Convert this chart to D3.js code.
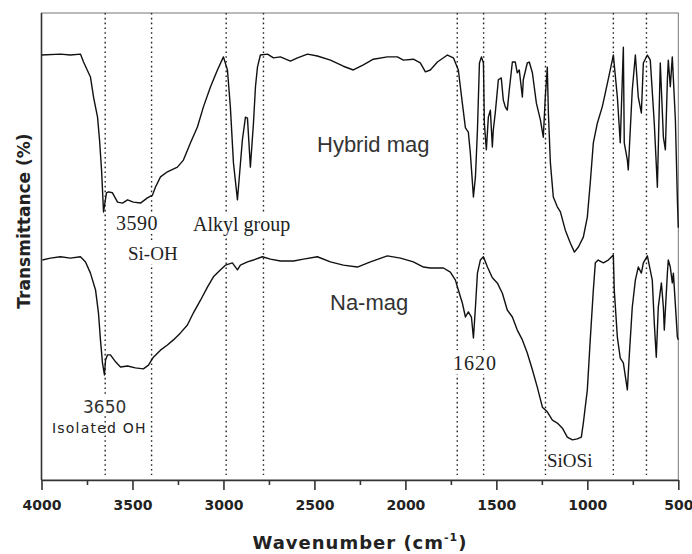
<!DOCTYPE html>
<html>
<head>
<meta charset="utf-8">
<script src="https://cdn.jsdelivr.net/npm/d3@7"></script>
<style>
  html, body { margin: 0; padding: 0; background: #fff; }
  svg { display: block; }
</style>
</head>
<body>
<svg id="chart" width="692" height="554"></svg>
<script>
// ---- data (wavenumber cm-1, transmittance in arbitrary %) ----
const hybridWavenumber = [4000,3896,3841,3786,3769,3731,3714,3692,3681,3670,3659,3643,3632,3610,3582,3555,3527,3495,3456,3418,3390,3374,3346,3308,3253,3220,3181,3143,3110,3071,3033,3000,2978,2962,2945,2923,2896,2879,2868,2852,2835,2824,2813,2797,2758,2725,2687,2632,2593,2538,2484,2412,2341,2286,2231,2176,2099,2044,2011,1956,1918,1890,1863,1824,1769,1736,1709,1687,1670,1654,1643,1626,1615,1604,1593,1582,1571,1566,1555,1544,1533,1522,1517,1506,1489,1473,1462,1451,1440,1429,1412,1396,1385,1374,1357,1352,1330,1319,1302,1280,1258,1242,1231,1220,1214,1203,1187,1165,1148,1121,1093,1071,1049,1022,1000,984,967,945,918,901,874,857,835,819,802,797,780,775,753,736,720,703,692,670,654,632,615,599,582,571,560,555,544,533,516,505,500];
const hybridTransmittance = [91.0,91.2,91.0,91.2,89.5,86.3,82.0,77.7,72.8,66.4,57.4,61.5,61.7,61.5,59.5,59.3,60.0,59.5,59.3,60.4,61.0,62.7,64.9,66.0,67.0,68.5,72.2,75.6,79.9,84.2,87.8,90.6,87.8,79.9,67.9,60.0,72.8,77.7,77.5,67.0,76.4,84.2,88.4,91.0,91.2,90.4,90.6,89.7,90.4,91.2,90.8,89.9,88.6,87.8,88.9,90.1,90.6,90.6,89.9,90.1,89.3,87.4,87.8,89.5,91.0,90.4,87.8,80.7,75.4,74.5,70.0,60.6,64.9,74.9,89.3,90.6,89.3,76.4,70.7,77.7,79.2,71.3,74.9,78.6,85.7,86.1,81.4,79.9,79.2,83.5,89.5,89.5,87.2,87.8,82.0,85.7,89.3,89.5,87.2,80.7,77.1,73.4,82.0,88.4,78.6,67.9,60.6,58.5,57.4,53.5,50.7,48.8,49.9,52.0,56.3,63.6,72.2,76.4,79.9,82.9,87.8,91.0,82.0,72.2,92.7,72.2,68.5,66.4,83.5,91.0,82.0,78.6,89.3,91.0,89.9,76.4,62.7,89.3,73.4,70.7,85.7,89.9,84.2,90.6,77.1,60.0,54.0];

const naWavenumber = [3995,3951,3896,3841,3786,3758,3731,3703,3687,3676,3665,3654,3648,3637,3621,3593,3566,3527,3484,3440,3412,3385,3346,3308,3275,3236,3198,3165,3126,3088,3055,3016,2989,2951,2923,2907,2868,2835,2786,2742,2687,2615,2560,2484,2412,2341,2264,2192,2099,2027,1956,1901,1863,1791,1753,1725,1709,1687,1670,1654,1637,1626,1615,1604,1588,1571,1549,1522,1495,1467,1440,1412,1385,1357,1330,1302,1275,1247,1220,1192,1165,1137,1110,1082,1055,1033,1022,1000,984,967,956,940,912,885,857,852,835,819,802,780,770,753,736,720,703,692,670,643,632,621,610,593,582,577,560,555,544,533,527,505,500];
const naTransmittance = [47.1,47.5,47.8,47.5,47.8,46.7,44.3,40.7,35.8,30.0,25.1,22.5,25.7,26.8,26.8,25.3,24.2,24.4,24.0,23.8,24.6,26.3,27.8,28.9,30.0,31.5,33.2,35.8,38.5,41.3,43.5,45.0,46.0,46.5,45.0,46.0,46.7,47.1,47.8,47.3,46.9,46.9,47.3,47.8,46.7,46.0,45.6,46.7,48.0,47.5,46.7,45.6,45.4,45.4,44.5,42.8,40.7,37.9,34.9,36.0,34.9,30.4,37.0,44.3,47.1,47.8,45.6,43.3,42.2,40.0,36.4,34.9,32.1,30.0,27.2,23.6,19.9,15.6,14.6,12.8,12.2,11.1,9.2,8.6,8.8,9.2,12.2,19.3,30.0,40.7,46.5,47.1,46.5,47.1,48.2,40.7,30.6,26.1,25.1,19.3,26.3,37.0,42.8,45.6,44.3,46.5,48.0,42.8,33.6,26.3,37.0,42.2,37.0,32.1,44.3,47.1,45.6,42.2,44.3,30.6,30.0];

const markerWavenumbers = [3650,3395,2985,2780,1715,1570,1230,857,675];
const xTicks = [4000,3500,3000,2500,2000,1500,1000,500];
const xMinorTicks = [3750,3250,2750,2250,1750,1250,750];

// ---- layout ----
const svg = d3.select("#chart");
const mLeft = 41.5, mRight = 678.3, mTop = 13, mBottom = 480;

const x = d3.scaleLinear().domain([4000, 500]).range([mLeft, mRight]);
const y = d3.scaleLinear().domain([0, 100]).range([mBottom, mTop]);

// frame
svg.append("rect")
  .attr("x", mLeft).attr("y", mTop)
  .attr("width", mRight - mLeft).attr("height", mBottom - mTop)
  .attr("fill", "none").attr("stroke", "#777").attr("stroke-width", 1);
svg.append("line").attr("x1", mLeft).attr("x2", mLeft).attr("y1", mTop).attr("y2", mBottom)
  .attr("stroke", "#333").attr("stroke-width", 1.6);

// dotted marker lines
svg.append("g").selectAll("line").data(markerWavenumbers).join("line")
  .attr("x1", d => x(d)).attr("x2", d => x(d))
  .attr("y1", mTop).attr("y2", 475)
  .attr("stroke", "#222").attr("stroke-width", 1.4)
  .attr("stroke-dasharray", "1.6,3.2");

// label backgrounds (hide dotted line under labels)
const bgBoxes = [
  {x: 113, y: 212, w: 48, h: 22},
  {x: 125, y: 240, w: 56, h: 24},
  {x: 190, y: 212, w: 106, h: 24},
  {x: 79, y: 396, w: 50, h: 20},
  {x: 450, y: 350, w: 48, h: 24}
];
svg.append("g").selectAll("rect").data(bgBoxes).join("rect")
  .attr("x", d => d.x).attr("y", d => d.y).attr("width", d => d.w).attr("height", d => d.h)
  .attr("fill", "#fff");

// curves
const line = d3.line().x(d => x(d[0])).y(d => y(d[1]));
const hybrid = hybridWavenumber.map((w, i) => [w, hybridTransmittance[i]]);
const na = naWavenumber.map((w, i) => [w, naTransmittance[i]]);
[hybrid, na].forEach(s => {
  svg.append("path").datum(s).attr("d", line)
    .attr("fill", "none").attr("stroke", "#111").attr("stroke-width", 1.4)
    .attr("stroke-linejoin", "round");
});

// x axis
const xAxis = d3.axisBottom(x).tickValues(xTicks).tickFormat(d3.format("d"))
  .tickSizeInner(10).tickSizeOuter(0).tickPadding(10);
const gx = svg.append("g").attr("transform", `translate(0,${mBottom})`).call(xAxis);
gx.select(".domain").attr("stroke", "#333").attr("stroke-width", 1.6);
gx.selectAll(".tick line").attr("stroke", "#333").attr("stroke-width", 1.6);
gx.selectAll(".tick text").attr("font-family", "DejaVu Sans").attr("font-weight", "bold")
  .attr("font-size", 14).attr("fill", "#222");

const gm = svg.append("g").attr("transform", `translate(0,${mBottom})`)
  .call(d3.axisBottom(x).tickValues(xMinorTicks).tickSizeInner(5).tickSizeOuter(0).tickFormat(""));
gm.select(".domain").remove();
gm.selectAll(".tick line").attr("stroke", "#333").attr("stroke-width", 1.6);

// axis titles
const xt = svg.append("text").attr("x", 360).attr("y", 549).attr("text-anchor", "middle")
  .attr("font-family", "DejaVu Sans").attr("font-weight", "bold").attr("font-size", 18)
  .attr("letter-spacing", 1).attr("fill", "#222");
xt.append("tspan").text("Wavenumber (cm");
xt.append("tspan").attr("dy", -8).attr("font-size", 11).text("-1");
xt.append("tspan").attr("dy", 8).text(")");

svg.append("text").attr("transform", "translate(30,221) rotate(-90)")
  .attr("text-anchor", "middle")
  .attr("font-family", "DejaVu Sans").attr("font-weight", "bold").attr("font-size", 17)
  .attr("fill", "#222").text("Transmittance (%)");

// annotations
const annotations = [
  {t: "Hybrid mag", x: 317, y: 152, f: "Liberation Sans", s: 22, c: "#333", ls: 0},
  {t: "Na-mag", x: 330, y: 310, f: "Liberation Sans", s: 22, c: "#333", ls: 0},
  {t: "3590", x: 116, y: 230, f: "Liberation Serif", s: 20, c: "#222", ls: 0.5},
  {t: "Si-OH", x: 128, y: 260, f: "Liberation Serif", s: 19, c: "#222", ls: 0},
  {t: "Alkyl group", x: 193, y: 231, f: "Liberation Serif", s: 20, c: "#222", ls: 0},
  {t: "1620", x: 453, y: 370, f: "Liberation Serif", s: 20, c: "#222", ls: 1},
  {t: "SiOSi", x: 547, y: 467, f: "Liberation Serif", s: 19, c: "#222", ls: 0},
  {t: "3650", x: 83, y: 413, f: "DejaVu Sans", s: 17, c: "#333", ls: 0},
  {t: "Isolated OH", x: 52, y: 433, f: "DejaVu Sans", s: 14, c: "#222", ls: 1.2}
];
svg.append("g").selectAll("text").data(annotations).join("text")
  .attr("x", d => d.x).attr("y", d => d.y)
  .attr("font-family", d => d.f).attr("font-size", d => d.s)
  .attr("letter-spacing", d => d.ls).attr("fill", d => d.c).text(d => d.t);
</script>
</body>
</html>
